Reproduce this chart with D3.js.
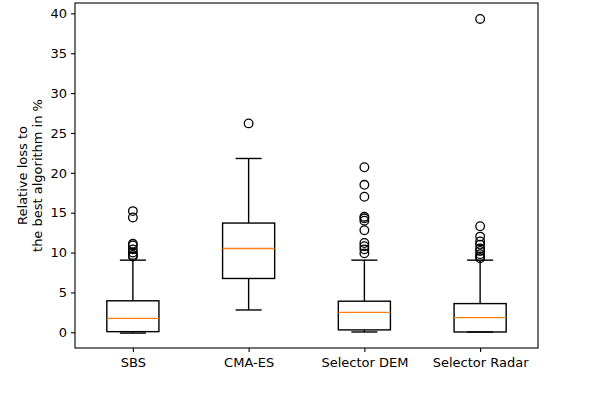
<!DOCTYPE html>
<html>
<head>
<meta charset="utf-8">
<script src="https://d3js.org/d3.v7.min.js"></script>
<style>
  body { margin: 0; background: #fff; }
  text { font-family: "DejaVu Sans", sans-serif; fill: #000; }
  .tick text { font-size: 13px; }
  .axis path, .axis line { stroke: #000; stroke-width: 1.1; }
</style>
</head>
<body>
<script>
// box stats: [lowWhisker, q1, median, q3, highWhisker]
var algos = ["SBS", "CMA-ES", "Selector DEM", "Selector Radar"];
var lowWhisker  = [-0.1, 2.8, 0.04, 0.04];
var q1          = [0.08, 6.75, 0.3, 0.04];
var medians     = [1.75, 10.5, 2.5, 1.84];
var q3          = [3.95, 13.7, 3.9, 3.6];
var highWhisker = [9.05, 21.8, 9.05, 9.05];
var outliers = [
  [9.5, 9.7, 10.0, 10.4, 10.9, 11.1, 14.4, 15.2],
  [26.2],
  [9.9, 10.4, 10.8, 11.2, 12.8, 14.0, 14.3, 14.5, 17.0, 18.5, 20.7],
  [9.3, 9.5, 9.8, 10.2, 10.5, 11.0, 11.4, 12.0, 13.3, 39.3]
];
var yTicks = [0, 5, 10, 15, 20, 25, 30, 35, 40];

var W = 598, H = 398;
var margin = {top: 3, right: 60, bottom: 50, left: 75};
var width = 538 - margin.left;
var height = 348 - margin.top;

var svg = d3.select("body").append("svg")
    .attr("width", W)
    .attr("height", H);

var g = svg.append("g")
    .attr("transform", "translate(" + margin.left + "," + margin.top + ")");

var x = d3.scaleLinear().domain([0.5, 4.5]).range([0, width]);
var y = d3.scaleLinear().domain([-1.97, 41.3]).range([height, 0]);

var boxW = x(1.45) - x(1);
var capW = boxW / 2;

g.append("g")
    .attr("class", "axis")
    .attr("transform", "translate(0," + height + ")")
    .call(d3.axisBottom(x).tickValues([1, 2, 3, 4])
      .tickFormat(function(d) { return algos[d - 1]; })
      .tickSize(4).tickPadding(6))
    .call(function(a) { a.select(".domain").remove(); });

g.append("g")
    .attr("class", "axis")
    .call(d3.axisLeft(y).tickValues(yTicks).tickSize(4).tickPadding(4))
    .call(function(a) { a.select(".domain").remove(); });

g.append("rect")
    .attr("x", 0).attr("y", 0)
    .attr("width", width).attr("height", height)
    .attr("fill", "none")
    .attr("stroke", "#000")
    .attr("stroke-width", 1.1);

var boxes = g.selectAll(".box")
    .data(algos)
  .enter().append("g")
    .attr("class", "box");

boxes.each(function(d, i) {
  var b = d3.select(this);
  var cx = x(i + 1);
  var lw = 1.4;
  // whiskers
  b.append("line").attr("x1", cx).attr("x2", cx)
    .attr("y1", y(q3[i])).attr("y2", y(highWhisker[i]))
    .attr("stroke", "#000").attr("stroke-width", lw);
  b.append("line").attr("x1", cx).attr("x2", cx)
    .attr("y1", y(q1[i])).attr("y2", y(lowWhisker[i]))
    .attr("stroke", "#000").attr("stroke-width", lw);
  // caps
  [lowWhisker[i], highWhisker[i]].forEach(function(v) {
    b.append("line").attr("x1", cx - capW / 2).attr("x2", cx + capW / 2)
      .attr("y1", y(v)).attr("y2", y(v))
      .attr("stroke", "#000").attr("stroke-width", lw);
  });
  // box
  b.append("rect")
    .attr("x", cx - boxW / 2).attr("width", boxW)
    .attr("y", y(q3[i])).attr("height", y(q1[i]) - y(q3[i]))
    .attr("fill", "none").attr("stroke", "#000").attr("stroke-width", lw);
  // median
  b.append("line").attr("x1", cx - boxW / 2).attr("x2", cx + boxW / 2)
    .attr("y1", y(medians[i])).attr("y2", y(medians[i]))
    .attr("stroke", "#ff7f0e").attr("stroke-width", lw);
  // fliers
  b.selectAll("circle")
    .data(outliers[i])
  .enter().append("circle")
    .attr("cx", cx)
    .attr("cy", function(v) { return y(v); })
    .attr("r", 4.3)
    .attr("fill", "none")
    .attr("stroke", "#000")
    .attr("stroke-width", 1.3);
});

svg.append("text")
    .attr("transform", "translate(27," + (margin.top + height / 2) + ") rotate(-90)")
    .attr("text-anchor", "middle")
    .style("font-size", "13px")
    .selectAll("tspan")
    .data(["Relative loss to", "the best algorithm in %"])
  .enter().append("tspan")
    .attr("x", 0)
    .attr("dy", function(d, i) { return i === 0 ? "0" : "1.15em"; })
    .text(function(d) { return d; });
</script>
</body>
</html>
